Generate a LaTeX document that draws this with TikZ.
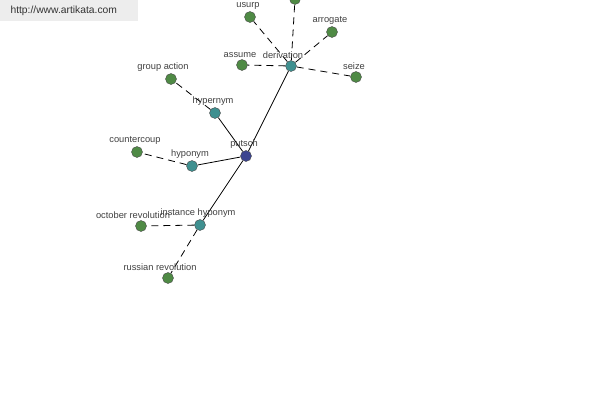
\documentclass[tikz,border=0pt]{standalone}
\usepackage{fontspec}
\setmainfont{Liberation Sans}
\usepackage{tikz}
\usetikzlibrary{backgrounds}

\definecolor{leafgreen}{HTML}{4F8A45}
\definecolor{relteal}{HTML}{3F9090}
\definecolor{rootblue}{HTML}{3C4590}
\definecolor{labelgray}{HTML}{404040}

\begin{document}
\begin{tikzpicture}[x=1pt, y=-1pt,
		every node/.style={font=\fontsize{9.3}{11}\selectfont, text=labelgray},
		word/.style={circle, draw=black!70, fill=leafgreen, minimum size=11pt, inner sep=0pt},
		relation/.style={word, fill=relteal},
		root/.style={word, fill=rootblue},
		link/.style={draw=black, line width=0.8pt},
		weak/.style={link, dash pattern=on 7pt off 5pt},
		tag/.style={above=1.5pt, inner sep=0pt, xshift=-2pt},
		longtag/.style={tag, xshift=-6pt},
	]

	\useasboundingbox (0,0) rectangle (600,400);
	\fill[black!7] (0,0) rectangle (138,21);
	\node (site) [anchor=west, text=black!80, font=\fontsize{10.3}{12}\selectfont] at (7,11) {http://www.artikata.com};

	% root and relations
	\node (putsch) [root] at (246,156) {};
	\node (deriv) [relation] at (291,66) {};
	\node (hyper) [relation] at (215,113) {};
	\node (hypo) [relation] at (192,166) {};
	\node (inst) [relation] at (200,225) {};

	% words
	\node (usurp) [word] at (250,17) {};
	\node (top) [word] at (295,-1) {};
	\node (arrogate) [word] at (332,32) {};
	\node (assume) [word] at (242,65) {};
	\node (seize) [word] at (356,77) {};
	\node (group) [word] at (171,79) {};
	\node (counter) [word] at (137,152) {};
	\node (october) [word] at (141,226) {};
	\node (russian) [word] at (168,278) {};

	\begin{pgfonlayer}{background}
		\draw[link] (putsch) -- (deriv);
		\draw[link] (putsch) -- (hyper);
		\draw[link] (putsch) -- (hypo);
		\draw[link] (putsch) -- (inst);
		\draw[weak] (deriv) -- (usurp);
		\draw[weak] (deriv) -- (top);
		\draw[weak] (deriv) -- (arrogate);
		\draw[weak] (deriv) -- (assume);
		\draw[weak] (deriv) -- (seize);
		\draw[weak] (hyper) -- (group);
		\draw[weak] (hypo) -- (counter);
		\draw[weak] (inst) -- (october);
		\draw[weak] (inst) -- (russian);
	\end{pgfonlayer}

	% labels
	\node [tag] at (putsch.north) {putsch};
	\node [longtag] at (deriv.north) {derivation};
	\node [tag] at (hyper.north) {hypernym};
	\node [tag] at (hypo.north) {hyponym};
	\node [tag] at (inst.north) {instance hyponym};
	\node [tag] at (usurp.north) {usurp};
	\node [tag] at (arrogate.north) {arrogate};
	\node [tag] at (assume.north) {assume};
	\node [tag] at (seize.north) {seize};
	\node [longtag] at (group.north) {group action};
	\node [tag] at (counter.north) {countercoup};
	\node [longtag] at (october.north) {october revolution};
	\node [longtag] at (russian.north) {russian revolution};
\end{tikzpicture}
\end{document}
